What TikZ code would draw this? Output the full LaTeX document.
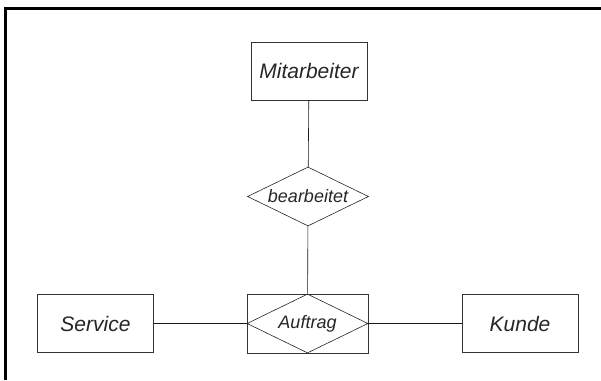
\documentclass[tikz,border=0pt]{standalone}
\usepackage{fontspec}
\setmainfont{Liberation Sans}
\usetikzlibrary{shapes.geometric}
\tikzset{
   entity/.style={ rectangle, draw=black!80, semithick, minimum width=116pt, minimum height=58pt, text centered, font=\fontsize{21}{24}\selectfont\itshape, text=black!85},
   relation/.style={ diamond, aspect=2, draw=black!85, semithick, inner sep=0pt, minimum width=121pt, minimum height=59pt, font=\fontsize{18}{21}\selectfont\itshape, text=black!85},
   weak box/.style={ rectangle, draw=black!80, semithick, minimum width=121pt, minimum height=59pt},
   link/.style={ draw=black!90, semithick}
}

\begin{document}
\begin{tikzpicture}[x=1pt,y=-1pt]
  \useasboundingbox (0,0) rectangle (601,380);
  \draw[line width=3pt] (5,380) -- (5,8) -- (601,8);

  \node[entity]   at (309,71)    (mitarbeiter) {Mitarbeiter};
  \node[relation] at (308,196.5) (bearbeitet)  {bearbeitet};
  \node[weak box] at (307.5,323.5) (auftrag)   {};
  \node[relation] at (307.5,323.5) (auftrag rel) {Auftrag};
  \node[entity]   at (95.5,323.5) (service)    {Service};
  \node[entity]   at (520,323.5)  (kunde)      {Kunde};

  \draw[link] (mitarbeiter) -- (bearbeitet);
  \draw[link] (bearbeitet) -- (auftrag);
  \draw[link] (service) -- (auftrag);
  \draw[link] (auftrag) -- (kunde);

\end{tikzpicture}
\end{document}
